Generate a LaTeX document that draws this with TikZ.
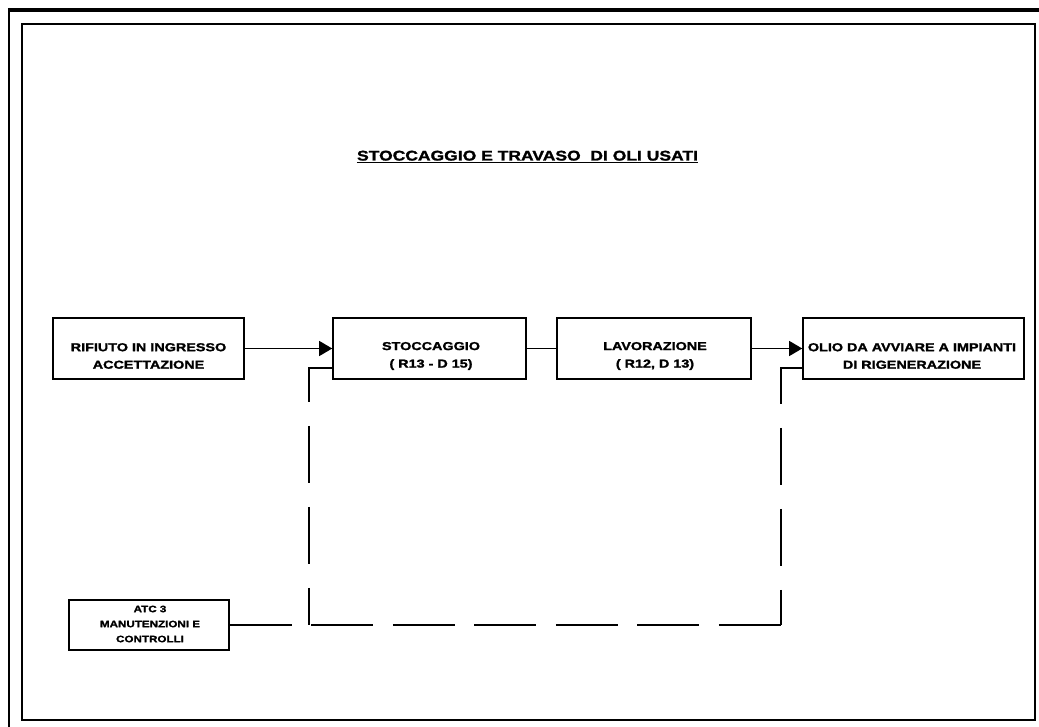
\documentclass[tikz,border=0pt]{standalone}
\usepackage{fontspec}
\newfontfamily\df{Liberation Sans Bold}[FakeStretch=1.25,FakeBold=1.6]
\usetikzlibrary{arrows.meta}
\begin{document}
\begin{tikzpicture}[x=1pt,y=-1pt,
  box/.style={draw,line width=1.6pt,inner sep=0pt,fill=white},
  txt/.style={font=\df\fontsize{11.5}{17.5}\selectfont,align=center,inner sep=0pt},
  smalltxt/.style={font=\df\fontsize{9.3}{15}\selectfont,align=center,inner sep=0pt},
  conn/.style={line width=1.2pt},
  arr/.style={conn,-{Triangle[length=13pt,width=15pt]}},
  dsh/.style={conn,dash pattern=on 57pt off 24pt},
  hdsh/.style={conn,dash pattern=on 62pt off 19.5pt}]
\useasboundingbox (0,0) rectangle (1039,727);
\fill[white] (0,0) rectangle (1039,727);
% frames
\draw[line width=4pt] (7.75,10) -- (1039,10);
\draw[line width=2.5pt] (9,8) -- (9,727);
\draw[line width=1.8pt] (22,24) rectangle (1035,720);
% title
\node[font=\df\fontsize{14}{16}\selectfont,inner sep=0pt,anchor=base] (title) at (527.5,160.5) {STOCCAGGIO E TRAVASO~~DI OLI USATI};
\draw[line width=1.3pt] ([yshift=-2.2pt]title.base west) -- ([yshift=-2.2pt]title.base east);
% boxes
\node[box,minimum width=191pt,minimum height=61pt] (b1) at (148.5,348.5) {};
\node[txt] (t1) at (148.5,356) {RIFIUTO IN INGRESSO\\ACCETTAZIONE};
\node[box,minimum width=193pt,minimum height=61pt] (b2) at (429.5,348.5) {};
\node[txt] (t2) at (431,356) {STOCCAGGIO\\( R13 - D 15)};
\node[box,minimum width=194pt,minimum height=61pt] (b3) at (654,348.5) {};
\node[txt] (t3) at (655,356) {LAVORAZIONE\\( R12, D 13)};
\node[box,minimum width=221pt,minimum height=61pt] (b4) at (913.5,348.5) {};
\node[txt] (t4) at (912,356) {OLIO DA AVVIARE A IMPIANTI\\DI RIGENERAZIONE};
\node[box,minimum width=160pt,minimum height=50pt] (atc) at (149,625) {};
\node[smalltxt] (t5) at (150,624) {ATC 3\\MANUTENZIONI E\\CONTROLLI};
% connectors
\draw[arr] (b1.east) -- (b2.west);
\draw[conn] (b2.east) -- (b3.west);
\draw[arr] (b3.east) -- (b4.west);
\coordinate (j1) at (309,625);
\coordinate (j2) at (781,625);
\draw[hdsh] (atc.east) -- (j2);
\draw[dsh] ([yshift=-19.5pt]b4.west) -| (j2);
\draw[dsh] ([yshift=-19.5pt]b2.west) -| (j1);
\end{tikzpicture}
\end{document}
